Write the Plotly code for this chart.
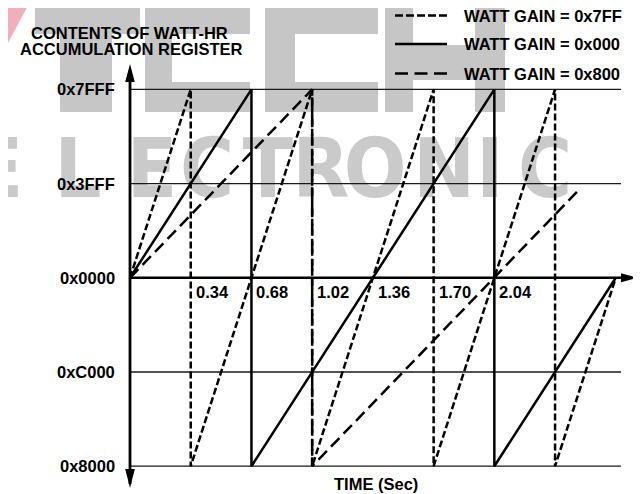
import plotly.graph_objects as go

# page body has an 8px margin: the figure is laid out in screen pixels [8, 641] x [8, 494]
OFF = 8
SW, SH = 641, 494
FW, FH = SW - OFF, SH - OFF

# ---------------- data ----------------
t_gain_7ff = [0.00, 0.34, 0.34, 1.02, 1.02, 1.70, 1.70, 2.38, 2.38, 2.72]
v_gain_7ff = [0x0000, 0x7FFF, -0x8000, 0x7FFF, -0x8000, 0x7FFF, -0x8000, 0x7FFF, -0x8000, 0x0000]

t_gain_000 = [0.00, 0.68, 0.68, 2.04, 2.04, 2.72]
v_gain_000 = [0x0000, 0x7FFF, -0x8000, 0x7FFF, -0x8000, 0x0000]

t_gain_800 = [0.00, 1.02, 1.02, 2.52]
v_gain_800 = [0x0000, 0x7FFF, -0x8000, 15500]

x_tick_vals = [0.34, 0.68, 1.02, 1.36, 1.70, 2.04]
x_tick_text = ["0.34", "0.68", "1.02", "1.36", "1.70", "2.04"]

y_tick_vals = [0x7FFF, 0x3FFF, 0x0000, -0x4000, -0x8000]
y_tick_text = ["0x7FFF", "0x3FFF", "0x0000", "0xC000", "0x8000"]

legend_labels = ["WATT GAIN = 0x7FF", "WATT GAIN = 0x000", "WATT GAIN = 0x800"]

title_lines = ["CONTENTS OF WATT-HR", "ACCUMULATION REGISTER"]
x_title = "TIME (Sec)"

watermark_word = "ELECTRONIC"

# ---------------- geometry (screen-pixel mapping of data axes) ----------------
X0, XS = 130.0, 178.6          # px of t=0, px per second
Y0, YS = 277.8, 94.2 / 16384   # px of v=0, px per count
t_end_grid = (621 - X0) / XS

def px_x(t):
    return X0 + t * XS

x2_range = [(OFF - X0) / XS, (SW - X0) / XS]
y2_range = [-(SH - Y0) / YS, (Y0 - OFF) / YS]

FONT = "Liberation Sans, Arial, Helvetica, sans-serif"
FS = 16.5
LW = 2.5
DOT = "7px,3px"
LONG = "12px,6px"

fig = go.Figure()

# ---- watermark (screen-pixel axes x/y, base layer) ----
wm_x = [-2, 78, 152, 207, 268, 321, 375, 444, 490, 545]
fig.add_trace(go.Scatter(
    x=wm_x, y=[176] * len(wm_x), mode="text",
    text=["<b>%s</b>" % c for c in watermark_word],
    textfont=dict(size=82, color="#cacaca",
                  family="Liberation Sans Narrow, DejaVu Sans Condensed, Liberation Sans, sans-serif"),
    textposition="middle center", hoverinfo="skip", showlegend=False,
    xaxis="x", yaxis="y"))

wm_rects = [
    (35, 4, 140, 34), (60, 34, 112, 112),                         # T
    (145, 4, 250, 34), (145, 34, 172, 112), (145, 82, 250, 112),  # E
    (265, 4, 378, 34), (265, 34, 295, 112), (265, 82, 378, 112),  # C
    (385, 0, 413, 112), (413, 45, 475, 80), (475, 0, 505, 112),   # H
]
shapes = []
for (x0, y0, x1, y1) in wm_rects:
    shapes.append(dict(type="rect", xref="x", yref="y", x0=x0, y0=y0, x1=x1, y1=y1,
                       fillcolor="#c6c6c6", line=dict(width=0), layer="below"))
shapes.append(dict(type="path", xref="x", yref="y", path="M 0 0 L 31 0 L 0 58 Z",
                   fillcolor="#eeb0ba", line=dict(width=0), layer="below"))

# ---- grid lines (data axes) ----
gx, gy = [], []
for v in y_tick_vals:
    if v == 0:
        continue
    gx += [0, t_end_grid, None]
    gy += [v, v, None]
fig.add_trace(go.Scatter(x=gx, y=gy, mode="lines", line=dict(color="#1a1a1a", width=1.3),
                         hoverinfo="skip", showlegend=False, xaxis="x2", yaxis="y2"))

# ---- axis lines ----
x_arrow_tip = (638 - X0) / XS
fig.add_trace(go.Scatter(x=[0, (624 - X0) / XS], y=[0, 0], mode="lines",
                         line=dict(color="black", width=2.5), hoverinfo="skip",
                         showlegend=False, xaxis="x2", yaxis="y2"))
fig.add_trace(go.Scatter(x=[0, 0], y=[(Y0 - 78) / YS, -(484 - Y0) / YS], mode="lines",
                         line=dict(color="black", width=2.8), hoverinfo="skip",
                         showlegend=False, xaxis="x2", yaxis="y2"))
ax_tip = px_x(x_arrow_tip)
shapes.append(dict(type="path", xref="x", yref="y",
                   path=f"M {ax_tip} {Y0} L {ax_tip-17} {Y0-4.5} L {ax_tip-17} {Y0+4.5} Z",
                   fillcolor="black", line=dict(width=0), layer="above"))
shapes.append(dict(type="path", xref="x", yref="y",
                   path=f"M {X0} 64 L {X0-4.8} 82 L {X0+4.8} 82 Z",
                   fillcolor="black", line=dict(width=0), layer="above"))
shapes.append(dict(type="path", xref="x", yref="y",
                   path=f"M {X0} 488 L {X0-4.8} 469 L {X0+4.8} 469 Z",
                   fillcolor="black", line=dict(width=0), layer="above"))

# ---- series ----
fig.add_trace(go.Scatter(x=t_gain_800, y=v_gain_800, mode="lines", name=legend_labels[2],
                         line=dict(color="black", width=LW, dash=LONG),
                         showlegend=False, xaxis="x2", yaxis="y2"))
fig.add_trace(go.Scatter(x=t_gain_7ff, y=v_gain_7ff, mode="lines", name=legend_labels[0],
                         line=dict(color="black", width=LW, dash=DOT),
                         showlegend=False, xaxis="x2", yaxis="y2"))
fig.add_trace(go.Scatter(x=t_gain_000, y=v_gain_000, mode="lines", name=legend_labels[1],
                         line=dict(color="black", width=LW),
                         showlegend=False, xaxis="x2", yaxis="y2"))

# ---- manual legend (screen-pixel axes) ----
leg_rows = [15.5, 44, 73.5]
leg_dash = ["8px,3px", "solid", "13px,6.5px"]
for yy, dsh in zip(leg_rows, leg_dash):
    fig.add_trace(go.Scatter(x=[395, 447], y=[yy, yy], mode="lines",
                             line=dict(color="black", width=LW, dash=dsh),
                             hoverinfo="skip", showlegend=False, xaxis="x", yaxis="y"))

annotations = []
for yy, lab in zip(leg_rows, legend_labels):
    annotations.append(dict(xref="x", yref="y", x=462, y=yy, text="<b>%s</b>" % lab,
                            showarrow=False, xanchor="left", yanchor="middle",
                            font=dict(family=FONT, size=FS, color="black")))

# y tick labels
for v, lab in zip(y_tick_vals, y_tick_text):
    annotations.append(dict(xref="x2", yref="y2", x=0, y=v, text="<b>%s</b>" % lab,
                            showarrow=False, xanchor="right", yanchor="middle", xshift=-13,
                            font=dict(family=FONT, size=FS, color="black")))
# x tick labels
for t, lab in zip(x_tick_vals, x_tick_text):
    annotations.append(dict(xref="x2", yref="y2", x=t, y=0, text="<b>%s</b>" % lab,
                            showarrow=False, xanchor="left", yanchor="top", xshift=3, yshift=-3,
                            font=dict(family=FONT, size=FS, color="black")))
# titles
annotations.append(dict(xref="x", yref="y", x=129, y=33, text="<b>%s</b>" % title_lines[0],
                        showarrow=False, xanchor="center", yanchor="middle",
                        font=dict(family=FONT, size=FS, color="black")))
annotations.append(dict(xref="x", yref="y", x=131, y=49, text="<b>%s</b>" % title_lines[1],
                        showarrow=False, xanchor="center", yanchor="middle",
                        font=dict(family=FONT, size=FS, color="black")))
annotations.append(dict(xref="x", yref="y", x=376, y=484, text="<b>%s</b>" % x_title,
                        showarrow=False, xanchor="center", yanchor="middle",
                        font=dict(family=FONT, size=FS, color="black")))

ax_common = dict(visible=False, showgrid=False, zeroline=False, fixedrange=True)
fig.update_layout(
    width=FW, height=FH, autosize=False,
    margin=dict(l=0, r=0, t=0, b=0, pad=0),
    paper_bgcolor="white", plot_bgcolor="white",
    showlegend=False,
    xaxis=dict(range=[OFF, SW], domain=[0, 1], **ax_common),
    yaxis=dict(range=[SH, OFF], domain=[0, 1], **ax_common),
    xaxis2=dict(range=x2_range, overlaying="x", anchor="y2", **ax_common),
    yaxis2=dict(range=y2_range, overlaying="y", anchor="x2", **ax_common),
    shapes=shapes,
    annotations=annotations,
)

fig.write_html("out.html")
